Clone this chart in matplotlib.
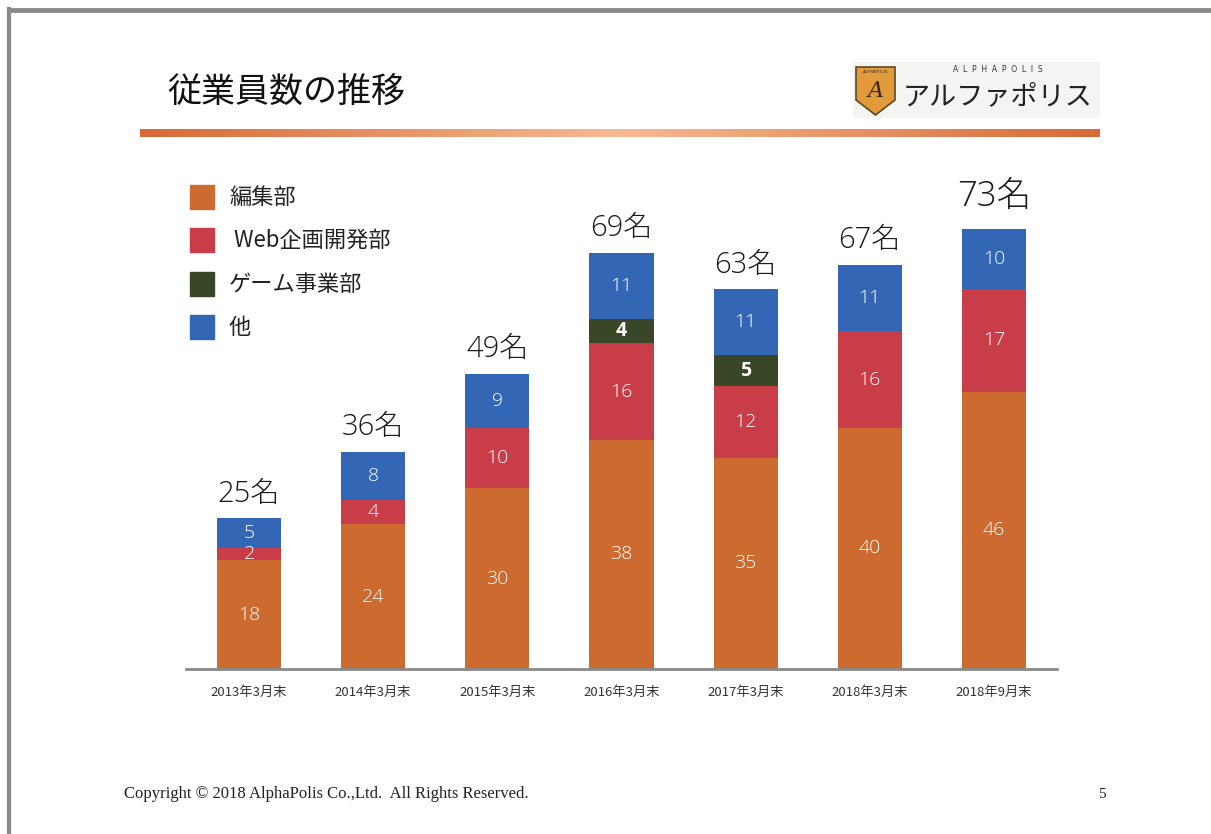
import numpy as np
import matplotlib
matplotlib.use("Agg")
import matplotlib.pyplot as plt
from matplotlib.patches import Rectangle, Polygon
from matplotlib.lines import Line2D

plt.rcParams['font.family'] = ['Noto Sans CJK JP', 'DejaVu Sans']
num_font = ['Open Sans', 'Noto Sans CJK JP']

periods = ["2013年3月末", "2014年3月末", "2015年3月末", "2016年3月末",
           "2017年3月末", "2018年3月末", "2018年9月末"]
editorial = [18, 24, 30, 38, 35, 40, 46]
web = [2, 4, 10, 16, 12, 16, 17]
game = [0, 0, 0, 4, 5, 0, 0]
other = [5, 8, 9, 11, 11, 11, 10]
series_names = ["編集部", " Web企画開発部", "ゲーム事業部", "他"]
colors = ["#CC6A30", "#C83D48", "#3A4628", "#3366B5"]

W, H = 1211, 834
fig = plt.figure(figsize=(W / 100, H / 100), dpi=100)

def fx(x):
    return x / W

def fy(y):
    return 1 - y / H

# slide border (top and left)
fig.add_artist(Line2D([fx(9), fx(9)], [fy(9), 0], color="#8a8a8a", lw=3))
fig.add_artist(Line2D([fx(9), 1], [fy(9.5), fy(9.5)], color="#8a8a8a", lw=3.5))

# title
fig.text(fx(167), fy(93), "従業員数の推移", fontsize=24.5, va="center", ha="left", color="#111111")

# gradient bar under title
gax = fig.add_axes([fx(140), fy(137), fx(1100) - fx(140), (137 - 129) / H])
t = np.linspace(0, 1, 300)
c_end = np.array([0xD8, 0x6A, 0x36]) / 255
c_mid = np.array([0xF5, 0xBA, 0x93]) / 255
w = 1 - np.abs(t - 0.5) * 2
grad = c_end[None, :] * (1 - w[:, None]) + c_mid[None, :] * w[:, None]
gax.imshow(grad[None, :, :], aspect="auto")
gax.axis("off")

# logo
lax = fig.add_axes([fx(853), fy(118), fx(1100) - fx(853), (118 - 62) / H])
lax.set_xlim(0, 247)
lax.set_ylim(56, 0)
lax.axis("off")
lax.add_patch(Rectangle((0, 0), 247, 56, color="#f4f4f2", zorder=0))
shield = Polygon([[3, 5], [42, 5], [42, 38], [22.5, 53], [3, 38]], closed=True,
                 facecolor="#E39A3A", edgecolor="#5a4a2a", lw=1.2)
lax.add_patch(shield)
lax.text(22.5, 10, "ALPHAPOLIS", fontsize=3, ha="center", va="center", color="#333333",
         family="DejaVu Sans")
lax.text(22.5, 29, "A", fontsize=16, ha="center", va="center", color="#3a2a1a",
         family="DejaVu Serif", style="italic")
lax.text(145, 8, "A  L  P  H  A  P  O  L  I  S", fontsize=5.5, ha="center", va="center",
         color="#333333", family="DejaVu Sans")
lax.text(145, 35, "アルファポリス", fontsize=19.5, ha="center", va="center", color="#222222")

# main chart
base_y = 669
px_per_unit = 6.03
ymax = 80
top_y = base_y - ymax * px_per_unit
ax = fig.add_axes([fx(186), fy(base_y), fx(1057) - fx(186), (base_y - top_y) / H])
x = np.arange(len(periods))
bw = 64 / 124
series = [editorial, web, game, other]
bottom = np.zeros(len(periods))
for k, vals in enumerate(series):
    vals = np.array(vals)
    ax.bar(x, vals, bw, bottom=bottom, color=colors[k], edgecolor="none", zorder=2)
    for i, v in enumerate(vals):
        if v == 0:
            continue
        ax.text(x[i], bottom[i] + v / 2, str(v), ha="center", va="center", color="white",
                fontsize=14, family=num_font,
                fontweight="bold" if k == 2 else "light", zorder=3)
    bottom = bottom + vals

totals = bottom
for i, tot in enumerate(totals):
    big = i == len(totals) - 1
    ax.text(x[i], tot + (2.4 if big else 1.6), f"{int(tot)}名", ha="center", va="bottom",
            fontsize=25 if big else 21, color="#1a1a1a", family=num_font,
            fontweight="light", clip_on=False)

ax.set_xlim(-0.508, len(periods) - 1 + 0.508)
ax.set_ylim(0, ymax)
for s in ["top", "right", "left"]:
    ax.spines[s].set_visible(False)
ax.spines["bottom"].set_color("#8a8a8a")
ax.spines["bottom"].set_linewidth(2)
ax.set_yticks([])
ax.set_xticks(x)
ax.set_xticklabels(periods, fontsize=9.5, color="#333333")
ax.tick_params(axis="x", length=0, pad=12)
ax.patch.set_alpha(0)

# legend
leg_rows = [197, 240, 284, 327]
for k, yy in enumerate(leg_rows):
    fig.add_artist(Rectangle((fx(190), fy(yy + 12)), 24 / W, 24 / H, color=colors[k],
                             transform=fig.transFigure))
    fig.text(fx(229), fy(yy), series_names[k], fontsize=16, va="center", ha="left",
             color="#222222")

# footer
fig.text(fx(124), fy(794), "Copyright © 2018 AlphaPolis Co.,Ltd.  All Rights Reserved.",
         fontsize=12, family="Liberation Serif", va="center", ha="left", color="#222222")
fig.text(fx(1102), fy(795), "5", fontsize=11, family="Liberation Serif", va="center",
         ha="center", color="#222222")

fig.savefig("out.png", dpi=100)
